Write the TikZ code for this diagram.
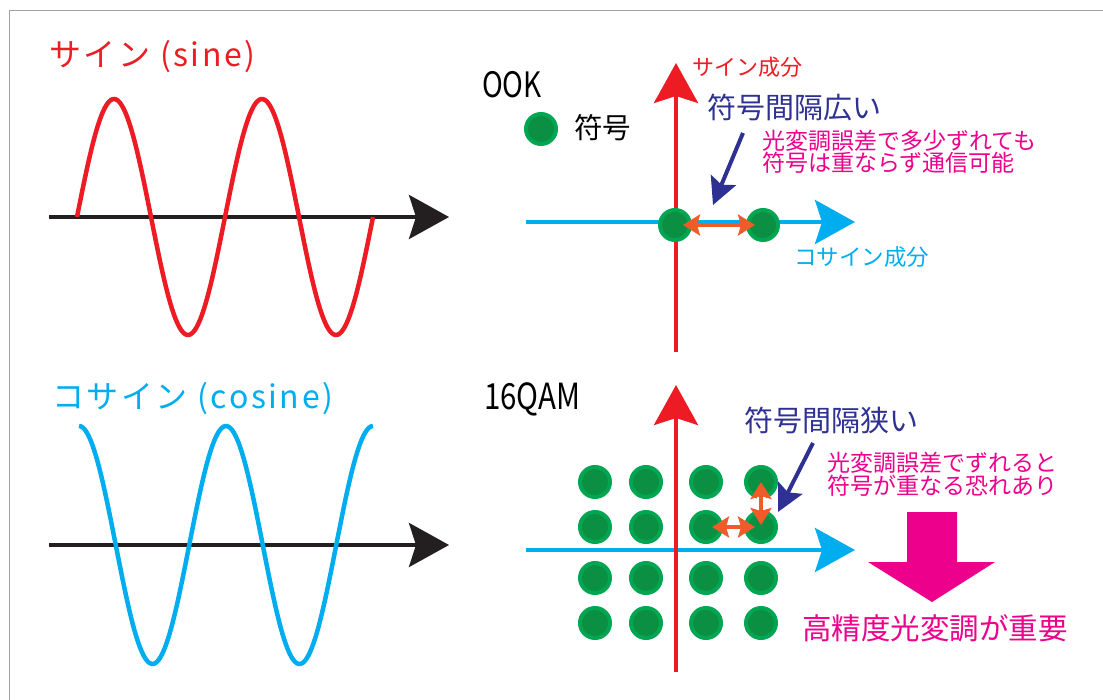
\documentclass[tikz,border=0pt]{standalone}
\usepackage{fontspec}
\newfontfamily\jp{Noto Sans CJK JP}
\newfontfamily\jpls{Noto Sans CJK JP}[LetterSpace=8]
\usetikzlibrary{arrows.meta}
\definecolor{cred}{HTML}{ED1C24}
\definecolor{ccyan}{HTML}{00AEEF}
\definecolor{cnavy}{HTML}{2E3192}
\definecolor{cpink}{HTML}{EC008C}
\definecolor{cgreenout}{HTML}{00A651}
\definecolor{cgreenin}{HTML}{0B8F42}
\definecolor{corange}{HTML}{F15A29}
\definecolor{cblack}{HTML}{231F20}
\definecolor{cborder}{HTML}{A0A0A0}
\begin{document}
\begin{tikzpicture}[x=1pt,y=-1pt,
  lbl/.style={inner sep=0pt, anchor=west},
  axisline/.style={line width=4pt, -{Stealth[length=40pt,width=44pt,inset=7pt]}},
  wave/.style={line width=4.5pt},
  dot/.style={circle, inner sep=0pt, minimum size=30pt, fill=cgreenin, draw=cgreenout, line width=4pt},
  navyarrow/.style={cnavy, line width=4pt, -{Stealth[length=27pt,width=27pt,inset=5pt]}},
  oarrow/.style={corange, line width=4pt, {Stealth[length=17pt,width=21pt,inset=3pt]}-{Stealth[length=17pt,width=21pt,inset=3pt]}},
  owhite/.style={white, line width=9pt, shorten <=14pt, shorten >=14pt}
]
\useasboundingbox (0,0) rectangle (1103,700);
\fill[white] (0,0) rectangle (1103,700);
% frame
\draw[cborder, line width=1.5pt] (9.5,700) -- (9.5,10.5) -- (1103,10.5);

% ---------- sine ----------
\node[lbl, text=cred, font={\jpls\fontsize{32}{32}\selectfont}] (tsin) at (49,57) {サイン (sine)};
\coordinate (sa0) at (49,217);
\coordinate (sa1) at (449,217);
\draw[cblack, axisline] (sa0) -- (sa1);
\draw[cred, wave] plot[domain=77:373, samples=160] (\x, {217-118*sin((\x-77)/148*360)});

% ---------- cosine ----------
\node[lbl, text=ccyan, font={\jpls\fontsize{32}{32}\selectfont}] (tcos) at (52,399) {コサイン (cosine)};
\coordinate (ca0) at (49,545);
\coordinate (ca1) at (449,545);
\draw[cblack, axisline] (ca0) -- (ca1);
\draw[ccyan, wave] plot[domain=79:373, samples=160] (\x, {545-119*cos((\x-79)/147*360)});

% ---------- OOK ----------
\node[lbl, font={\jp\fontsize{35}{35}\selectfont}] (took) at (482,85) {\scalebox{0.8}[1]{OOK}};
\coordinate (ox0) at (526,222);
\coordinate (ox1) at (855,222);
\coordinate (oy0) at (676,352);
\coordinate (oy1) at (676,63);
\draw[ccyan, axisline] (ox0) -- (ox1);
\draw[cred, axisline] (oy0) -- (oy1);
\node[lbl, text=cred, font={\jp\fontsize{22}{22}\selectfont}] (tsinc) at (692,67) {サイン成分};
\node[lbl, text=ccyan, font={\jp\fontsize{22.5}{22.5}\selectfont}] (tcosc) at (794,257) {コサイン成分};
\node[dot] (leg) at (541,129) {};
\node[lbl, font={\jp\fontsize{28.5}{28.5}\selectfont}] (tleg) at (574,128) {符号};
\node[dot] (oa) at (675,225) {};
\node[dot] (ob) at (763,225) {};
\draw[oarrow, shorten <=8pt, shorten >=8pt] (oa.center) -- (ob.center);
\node[lbl, text=cnavy, font={\jp\fontsize{29}{29}\selectfont}] (twide) at (707,107) {符号間隔広い};
\coordinate (nw0) at (743,133);
\coordinate (nw1) at (713,205);
\draw[navyarrow] (nw0) -- (nw1);
\node[lbl, text=cpink, align=left, font={\jp\fontsize{23}{22.5}\selectfont}] (tok) at (762,152) {光変調誤差で多少ずれても\\符号は重ならず通信可能};

% ---------- 16QAM ----------
\node[lbl, font={\jp\fontsize{36}{36}\selectfont}] (tqam) at (484,399) {\scalebox{0.82}[1]{16QAM}};
\coordinate (qx0) at (526,550);
\coordinate (qx1) at (855,550);
\coordinate (qy0) at (676,672);
\coordinate (qy1) at (676,385);
\draw[ccyan, axisline] (qx0) -- (qx1);
\draw[cred, axisline] (qy0) -- (qy1);
\foreach \r/\yy in {1/482,2/527,3/578,4/623}{
  \foreach \c/\xx in {1/595,2/646,3/706,4/761}{
    \node[dot] (q\r\c) at (\xx,\yy) {};
  }
}
\draw[owhite] (q14.center) -- (q24.center);
\draw[owhite] (q23.center) -- (q24.center);
\draw[oarrow, shorten <=0pt, shorten >=2pt] (q14.center) -- (q24.center);
\draw[oarrow, shorten <=6pt, shorten >=6pt] (q23.center) -- (q24.center);
\node[lbl, text=cnavy, font={\jp\fontsize{29}{29}\selectfont}] (tnarrow) at (744,420) {符号間隔狭い};
\coordinate (nn0) at (813,443);
\coordinate (nn1) at (778,512);
\draw[navyarrow] (nn0) -- (nn1);
\node[lbl, text=cpink, align=left, font={\jp\fontsize{23}{23}\selectfont}] (tng) at (827,474) {光変調誤差でずれると\\符号が重なる恐れあり};
\fill[cpink] (907,512) -- (957,512) -- (957,562) -- (995,562) -- (932,602) -- (868,562) -- (907,562) -- cycle;
\node[lbl, text=cpink, font={\jp\fontsize{29.5}{29.5}\selectfont}] (timp) at (802,628) {高精度光変調が重要};
\end{tikzpicture}
\end{document}
